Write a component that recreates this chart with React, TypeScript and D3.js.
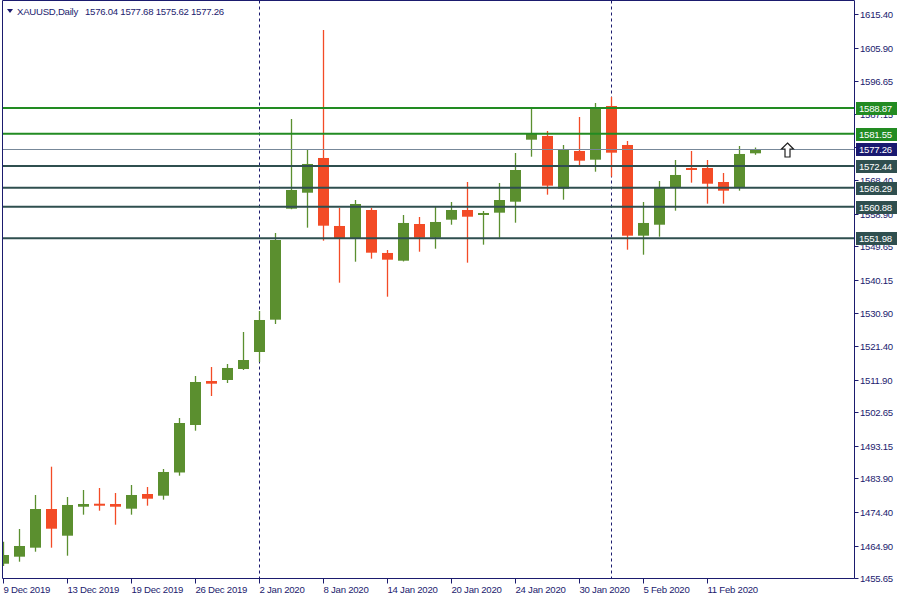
import React from 'react';
import * as d3 from 'd3';

const symbolTitle = 'XAUUSD,Daily';
const dates = [
  '9 Dec 2019', '10 Dec 2019', '11 Dec 2019', '12 Dec 2019', '13 Dec 2019', '16 Dec 2019', '17 Dec 2019', '18 Dec 2019',
  '19 Dec 2019', '20 Dec 2019', '23 Dec 2019', '24 Dec 2019', '26 Dec 2019', '27 Dec 2019', '30 Dec 2019', '31 Dec 2019',
  '2 Jan 2020', '3 Jan 2020', '6 Jan 2020', '7 Jan 2020', '8 Jan 2020', '9 Jan 2020', '10 Jan 2020', '13 Jan 2020',
  '14 Jan 2020', '15 Jan 2020', '16 Jan 2020', '17 Jan 2020', '20 Jan 2020', '21 Jan 2020', '22 Jan 2020', '23 Jan 2020',
  '24 Jan 2020', '27 Jan 2020', '28 Jan 2020', '29 Jan 2020', '30 Jan 2020', '31 Jan 2020', '3 Feb 2020', '4 Feb 2020',
  '5 Feb 2020', '6 Feb 2020', '7 Feb 2020', '10 Feb 2020', '11 Feb 2020', '12 Feb 2020', '13 Feb 2020', '14 Feb 2020',
];
const opens = [
  1459.75, 1461.74, 1464.29, 1475.25, 1467.69, 1475.90, 1476.75, 1476.67,
  1475.34, 1479.50, 1479.02, 1485.60, 1499.06, 1511.52, 1511.81, 1514.92,
  1519.74, 1528.90, 1560.35, 1564.88, 1574.72, 1555.45, 1551.85, 1559.98,
  1547.80, 1545.61, 1556.01, 1552.13, 1557.23, 1559.98, 1558.65, 1559.22,
  1562.33, 1579.90, 1580.95, 1566.02, 1576.70, 1574.24, 1589.45, 1578.40,
  1552.70, 1555.81, 1566.30, 1571.88, 1571.88, 1567.91, 1566.30, 1576.04,
];
const highs = [
  1465.99, 1469.59, 1479.22, 1487.24, 1478.65, 1480.64, 1481.20, 1479.79,
  1482.05, 1481.49, 1486.59, 1501.04, 1512.94, 1515.49, 1516.34, 1525.41,
  1531.36, 1553.46, 1585.77, 1576.98, 1610.99, 1560.55, 1562.81, 1560.55,
  1548.65, 1558.56, 1558.00, 1560.92, 1562.25, 1567.91, 1559.70, 1567.63,
  1576.13, 1588.60, 1582.37, 1578.40, 1586.33, 1590.30, 1592.00, 1579.53,
  1562.25, 1568.20, 1574.15, 1576.70, 1574.15, 1570.46, 1578.12, 1577.68,
];
const lows = [
  1459.10, 1460.32, 1463.15, 1464.29, 1462.02, 1473.64, 1474.77, 1470.80,
  1473.64, 1476.19, 1477.89, 1484.69, 1497.44, 1507.27, 1510.96, 1514.64,
  1516.91, 1527.68, 1560.20, 1554.97, 1551.28, 1539.38, 1545.33, 1546.18,
  1535.41, 1545.40, 1548.16, 1549.01, 1555.81, 1545.05, 1550.15, 1552.13,
  1556.38, 1575.08, 1564.32, 1562.90, 1572.25, 1570.83, 1569.42, 1548.73,
  1547.31, 1552.41, 1559.78, 1567.72, 1561.77, 1561.77, 1565.45, 1575.62,
];
const closes = [
  1462.22, 1464.77, 1475.25, 1469.67, 1476.39, 1476.67, 1476.47, 1475.90,
  1479.22, 1478.17, 1485.74, 1499.62, 1511.24, 1510.76, 1515.21, 1517.47,
  1528.81, 1551.48, 1565.65, 1573.02, 1555.53, 1551.85, 1561.68, 1547.88,
  1545.90, 1556.30, 1552.13, 1556.58, 1559.98, 1558.08, 1559.13, 1562.81,
  1571.31, 1581.60, 1566.87, 1576.98, 1573.95, 1588.69, 1576.22, 1552.70,
  1556.30, 1566.50, 1569.90, 1571.40, 1567.43, 1565.45, 1575.85, 1577.26,
];
const resistanceLevels = [1588.87, 1581.55];
const supportLevels = [1572.44, 1566.29, 1560.88, 1551.98];
const priceTicks = [
  1615.40, 1605.90, 1596.65, 1587.15, 1577.90, 1568.40, 1558.90, 1549.65, 1540.15,
  1530.90, 1521.40, 1511.90, 1502.65, 1493.15, 1483.90, 1474.40, 1464.90, 1455.65,
];
const separatorDates = ['2 Jan 2020', '3 Feb 2020'];
const labelStep = 4;

const FONT = '"Liberation Sans", Arial, sans-serif';
const NAVY = '#1b1b6e';
const UP = '#5b8f2f';
const DOWN = '#f34b26';
const GREEN_LINE = '#228b22';
const SLATE = '#2f4f4f';
const BID = '#778899';

export default function App() {
  const W = 900, H = 600;
  const left = 2.5, right = 854.5, top = 0.5, bottom = 578.5;
  const n = dates.length;
  const x = d3.scaleLinear().domain([0, n - 1]).range([3.5, 3.5 + 16 * (n - 1)]);
  const y = d3.scaleLinear().domain([1455.7, 1619.2]).range([578, 1]);
  const bodyW = 11;
  const lastClose = closes[n - 1];
  const fmt = d3.format('.2f');
  const labelIdx = d3.range(0, n, labelStep);
  const arrowX = x(n + 1);
  const arrowY = y(lastClose);
  const fs = 9.6;
  const ls = -0.25;

  const levelBox = (v: number, fill: string, key: string) => (
    <g key={key}>
      <rect x={856} y={Math.round(y(v)) - 6} width={41} height={13} fill={fill} />
      <text x={859} y={Math.round(y(v)) + 4} fontSize={fs} letterSpacing={ls} fill="#ffffff" fontFamily={FONT}>{fmt(v)}</text>
    </g>
  );

  return (
    <svg width={W} height={H} style={{ position: 'absolute', left: 0, top: 0, background: '#fff' }}>
      <defs>
        <clipPath id="plot">
          <rect x={left + 0.5} y={top + 0.5} width={right - left - 1} height={bottom - top - 1} />
        </clipPath>
      </defs>
      <rect x={0} y={0} width={W} height={H} fill="#ffffff" />

      <g clipPath="url(#plot)">
        {separatorDates.map((d) => {
          const i = dates.indexOf(d);
          return (
            <line key={d} x1={Math.floor(x(i)) + 0.5} x2={Math.floor(x(i)) + 0.5} y1={top} y2={bottom}
              stroke={NAVY} strokeWidth={1} strokeDasharray="3,3" />
          );
        })}
        {dates.map((d, i) => {
          const o = opens[i], c = closes[i], h = highs[i], l = lows[i];
          const col = c >= o ? UP : DOWN;
          const yt = y(Math.max(o, c));
          const yb = y(Math.min(o, c));
          const bh = Math.max(2, yb - yt);
          const cx = Math.floor(x(i)) + 0.5;
          return (
            <g key={d}>
              <line x1={cx} x2={cx} y1={y(h)} y2={y(l)} stroke={col} strokeWidth={1.3} />
              <rect x={cx - bodyW / 2} y={yt} width={bodyW} height={bh} fill={col} />
            </g>
          );
        })}
        {resistanceLevels.map((v) => (
          <line key={'r' + v} x1={left} x2={right} y1={y(v)} y2={y(v)} stroke={GREEN_LINE} strokeWidth={2} />
        ))}
        {supportLevels.map((v) => (
          <line key={'s' + v} x1={left} x2={right} y1={y(v)} y2={y(v)} stroke={SLATE} strokeWidth={2} />
        ))}
        <line x1={left} x2={right} y1={Math.round(y(lastClose)) + 0.5} y2={Math.round(y(lastClose)) + 0.5} stroke={BID} strokeWidth={1} />
        <path
          d={`M${arrowX},${arrowY - 6} L${arrowX + 6},${arrowY} L${arrowX + 2.5},${arrowY} L${arrowX + 2.5},${arrowY + 8} L${arrowX - 2.5},${arrowY + 8} L${arrowX - 2.5},${arrowY} L${arrowX - 6},${arrowY} Z`}
          fill="#ffffff" stroke="#202020" strokeWidth={1.2}
        />
      </g>

      {/* frame */}
      <line x1={left} x2={left} y1={top} y2={bottom} stroke={NAVY} strokeWidth={1} />
      <line x1={left} x2={right} y1={top} y2={top} stroke={NAVY} strokeWidth={1} />
      <line x1={left} x2={right} y1={bottom} y2={bottom} stroke={NAVY} strokeWidth={1} />
      <line x1={right} x2={right} y1={top} y2={bottom} stroke={NAVY} strokeWidth={1} />

      {/* price axis */}
      {priceTicks.map((v) => (
        <g key={'t' + v}>
          <line x1={right} x2={right + 4} y1={Math.round(y(v)) + 0.5} y2={Math.round(y(v)) + 0.5} stroke={NAVY} />
          <text x={860} y={Math.round(y(v)) + 4} fontSize={fs} letterSpacing={ls} fill={NAVY} fontFamily={FONT}>{fmt(v)}</text>
        </g>
      ))}
      {resistanceLevels.map((v) => levelBox(v, GREEN_LINE, 'rb' + v))}
      {levelBox(lastClose, '#191970', 'bid')}
      {supportLevels.map((v) => levelBox(v, SLATE, 'sb' + v))}

      {/* time axis */}
      {labelIdx.map((i) => {
        const tx = Math.floor(x(i)) + 0.5;
        return (
          <g key={'x' + i}>
            <line x1={tx} x2={tx} y1={bottom} y2={bottom + 5} stroke={NAVY} />
            <text x={tx} y={593} fontSize={fs} letterSpacing={ls} fill={NAVY} fontFamily={FONT}>{dates[i]}</text>
          </g>
        );
      })}

      {/* title */}
      <path d="M7,9 L13,9 L10,13 Z" fill={NAVY} />
      <text x={17} y={14.5} fontSize={fs} letterSpacing={ls} fill={NAVY} fontFamily={FONT}>
        {symbolTitle}
        <tspan dx={7}>{`${fmt(opens[n - 1])} ${fmt(highs[n - 1])} ${fmt(lows[n - 1])} ${fmt(lastClose)}`}</tspan>
      </text>
    </svg>
  );
}
